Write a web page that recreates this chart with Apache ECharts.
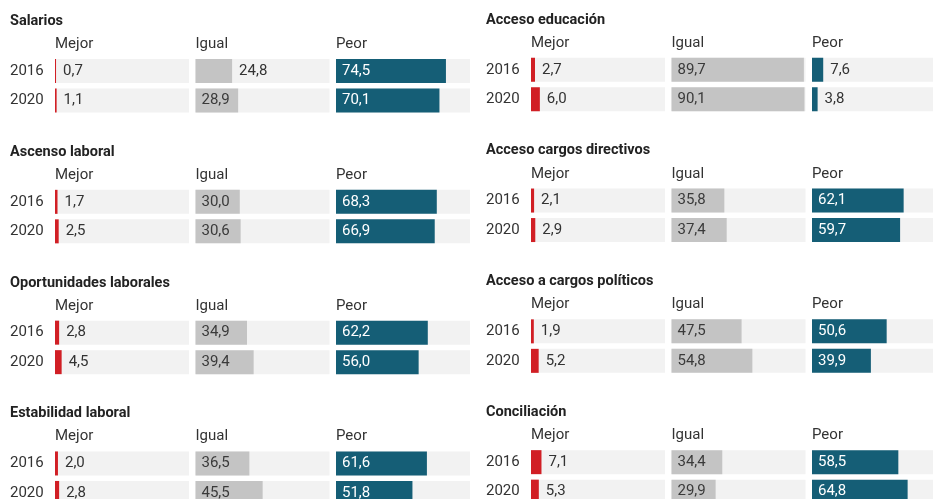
<!DOCTYPE html>
<html>
<head>
<meta charset="utf-8">
<script src="https://cdn.jsdelivr.net/npm/echarts@6/dist/echarts.min.js"></script>
<style>
    html, body { margin: 0; padding: 0; background: #fff; }
    #chart { width: 933px; height: 499px; }
</style>
</head>
<body>
<div id="chart"></div>
<script>
// datos (porcentajes)
var topics = ['Salarios', 'Ascenso laboral', 'Oportunidades laborales', 'Estabilidad laboral',
    'Acceso educación', 'Acceso cargos directivos', 'Acceso a cargos políticos', 'Conciliación'];
var years = ['2016', '2020'];
var columns = ['Mejor', 'Igual', 'Peor'];

var mejor2016 = [0.7, 1.7, 2.8, 2.0, 2.7, 2.1, 1.9, 7.1];
var mejor2020 = [1.1, 2.5, 4.5, 2.8, 6.0, 2.9, 5.2, 5.3];
var igual2016 = [24.8, 30.0, 34.9, 36.5, 89.7, 35.8, 47.5, 34.4];
var igual2020 = [28.9, 30.6, 39.4, 45.5, 90.1, 37.4, 54.8, 29.9];
var peor2016 = [74.5, 68.3, 62.2, 61.6, 7.6, 62.1, 50.6, 58.5];
var peor2020 = [70.1, 66.9, 56.0, 51.8, 3.8, 59.7, 39.9, 64.8];

var app = (function () {
    var colors = ['#d11f25', '#c4c4c4', '#155e76'];
    var insideColors = ['#333333', '#3a3a3a', '#ffffff'];
    var font = 'Roboto, "Noto Sans", sans-serif';

    var getValues = function (topic, col) {
        var pairs = [[mejor2016, mejor2020], [igual2016, igual2020], [peor2016, peor2020]];
        return [pairs[col][0][topic], pairs[col][1][topic]];
    };

    var fmt = function (p) {
        return p.value.toFixed(1).replace('.', ',');
    };

    var buildOption = function () {
        var grids = [], xAxes = [], yAxes = [], series = [], graphics = [];
        topics.forEach(function (name, t) {
            var side = t < 4 ? 0 : 1, row = t % 4;
            var x0 = side === 0 ? 55 : 531;
            var top = (side === 0 ? 56.3 : 55) + 130.8 * row;

            graphics.push({
                type: 'text',
                style: {
                    text: name, x: x0 - 45, y: top - 35,
                    font: 'bold 14.5px ' + font, fill: '#222',
                    textAlign: 'left', textVerticalAlign: 'middle'
                }
            });

            columns.forEach(function (colName, c) {
                var idx = grids.length;
                var left = x0 + c * 140.5;
                graphics.push({
                    type: 'text',
                    style: {
                        text: colName, x: left, y: top - 12,
                        font: '15px ' + font, fill: '#333',
                        textAlign: 'left', textVerticalAlign: 'middle'
                    }
                });
                grids.push({ left: left, top: top, width: 134, height: 59, outerBoundsMode: 'none' });
                xAxes.push({ gridIndex: idx, type: 'value', min: 0, max: 90.8, show: false });
                yAxes.push({
                    gridIndex: idx, type: 'category', data: years, inverse: true,
                    axisLine: { show: false }, axisTick: { show: false }, splitLine: { show: false },
                    axisLabel: {
                        show: c === 0, align: 'left', margin: 45,
                        fontSize: 15, fontFamily: font, color: '#333'
                    }
                });
                var vals = getValues(t, c);
                series.push({
                    type: 'bar',
                    xAxisIndex: idx,
                    yAxisIndex: idx,
                    barWidth: 24,
                    silent: true,
                    animation: false,
                    showBackground: true,
                    backgroundStyle: { color: '#f2f2f2' },
                    itemStyle: { color: colors[c] },
                    label: {
                        show: true, formatter: fmt,
                        fontSize: 15, fontFamily: font
                    },
                    data: vals.map(function (v) {
                        var inside = v >= 26;
                        return {
                            value: v,
                            label: {
                                position: inside ? 'insideLeft' : 'right',
                                distance: inside ? 6 : 7,
                                color: inside ? insideColors[c] : '#333'
                            }
                        };
                    })
                });
            });
        });
        return {
            backgroundColor: '#fff',
            grid: grids,
            xAxis: xAxes,
            yAxis: yAxes,
            series: series,
            graphic: graphics
        };
    };

    var init = function () {
        var myChart = echarts.init(document.getElementById('chart'));
        myChart.setOption(buildOption());
    };

    return { init: init };
})();

app.init();
</script>
</body>
</html>
